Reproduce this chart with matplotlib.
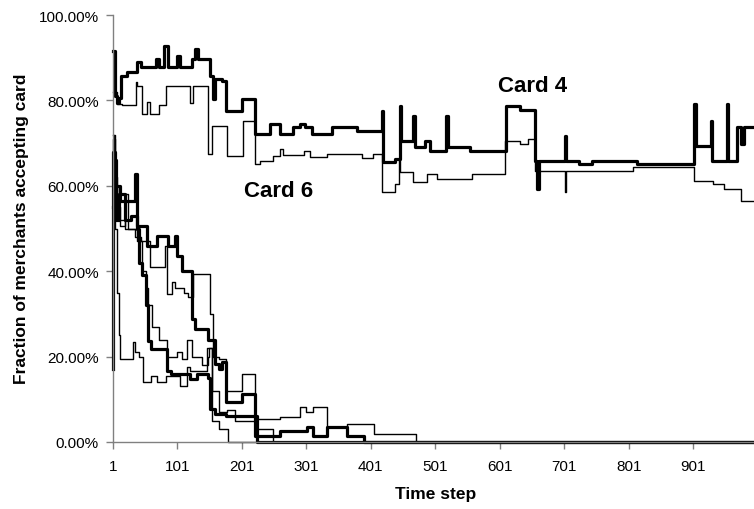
import matplotlib
matplotlib.use("Agg")
import matplotlib.pyplot as plt
from matplotlib.ticker import FuncFormatter

plt.rcParams['font.family'] = ['Liberation Sans', 'DejaVu Sans']

# ---- data: (time step, % of merchants accepting) step breakpoints ----
card4 = [(1, 91.5), (4, 81), (7, 79.5), (11, 80.5), (14, 85.7), (23, 86.7), (38, 89), (45, 87.8),
         (68, 89.7), (73, 87.8), (80, 92.7), (86, 87.8), (101, 90.4), (106, 87.8), (124, 89.7),
         (129, 92), (133, 89.7), (152, 85.7), (156, 80.3), (160, 85), (170, 84.5), (177, 77.5),
         (201, 80.3), (221, 72.1), (245, 74.5), (260, 72.1), (281, 73.8), (291, 74.5), (299, 73.8),
         (310, 72.1), (341, 73.8), (379, 72.8), (418, 77.5), (420, 65.6), (439, 66.2), (446, 78.7),
         (448, 70.5), (467, 76.3), (469, 69.1), (485, 70.5), (493, 68.1), (518, 76.3), (520, 69.1),
         (555, 68.1), (610, 78.7), (633, 77.8), (656, 65.8), (659, 59.3), (661, 65.8), (702, 71.7),
         (704, 65.8), (724, 65.1), (744, 65.8), (814, 65.1), (902, 79.2), (905, 69.3), (928, 75.2),
         (930, 65.8), (953, 79.2), (955, 65.8), (969, 73.8), (975, 69.8), (980, 73.8), (1000, 73.8)]

card6 = [(1, 82), (7, 79.2), (15, 79), (37, 84.3), (39, 83.4), (46, 76.8), (54, 79.6), (59, 76.8),
         (72, 78.9), (84, 83.4), (121, 79.5), (126, 83.4), (149, 67.4), (155, 74), (178, 67),
         (203, 75.2), (222, 65.1), (229, 65.8), (250, 67), (260, 68.6), (265, 67.1), (297, 68.2),
         (307, 66.7), (333, 67.4), (387, 66.5), (405, 67.4), (418, 58.5), (439, 60.4), (444, 66),
         (447, 63.2), (467, 60.9), (488, 62.8), (503, 61.6), (558, 62.8), (609, 70.5), (633, 69.8),
         (645, 71), (656, 63.5), (702, 58.5), (704, 63.5), (808, 64.4), (902, 61.1), (931, 60.4),
         (948, 59.3), (975, 56.5), (1000, 56.5)]

card_a = [(1, 17), (2, 68), (5, 60), (12, 56.4), (36, 62.8), (38, 50.7), (54, 45.9), (69, 48.3),
          (87, 46), (98, 48.3), (100, 43.6), (108, 40.1), (124, 28.8), (129, 26.5), (149, 24),
          (160, 18.3), (165, 17.1), (170, 18.7), (177, 9.4), (201, 11.2), (222, 1.5), (260, 2.6),
          (302, 3.5), (312, 1.5), (333, 3.5), (364, 1.5), (390, 0), (1000, 0)]

card_c = [(1, 55), (3, 66), (6, 52), (10, 58), (20, 52), (30, 53), (38, 50), (41, 42), (46, 39),
          (52, 32), (56, 23.7), (60, 21.8), (85, 16.7), (92, 15.9), (121, 14.7), (131, 15.9),
          (149, 15), (152, 7.7), (159, 6.5), (177, 6.2), (224, 0), (1000, 0)]

card_b = [(1, 72), (3, 60), (8, 52), (20, 50), (35, 48), (45, 47), (59, 41), (82, 46), (85, 34.7),
          (93, 37.5), (98, 36), (111, 35), (118, 34), (126, 39.3), (152, 30), (157, 20), (165, 19.4),
          (177, 12), (201, 15.9), (222, 5.5), (260, 5.8), (291, 8.2), (300, 7), (312, 8.2),
          (333, 3.5), (364, 4.2), (406, 1.9), (471, 0), (1000, 0)]

card_d = [(1, 45), (2, 71), (4, 62), (8, 55), (12, 50.5), (20, 58), (25, 50), (38, 47), (46, 40),
          (52, 36), (56, 32), (62, 27), (72, 24), (85, 20), (100, 21), (108, 19.5), (116, 24),
          (124, 20), (140, 18), (148, 20), (151, 22), (155, 12), (165, 7), (178, 7.5), (190, 5),
          (222, 3), (250, 0), (1000, 0)]

card_e = [(1, 65), (3, 72), (5, 50), (8, 35), (10, 25), (12, 19.4), (33, 23.4), (36, 21), (42, 20),
          (48, 14), (56, 14), (60, 15.5), (70, 14), (84, 15.5), (105, 13.2), (116, 17.5),
          (121, 16.7), (147, 22), (155, 5), (165, 3), (180, 0), (1000, 0)]

xticks = [1, 101, 201, 301, 401, 501, 601, 701, 801, 901]
yticks = [0, 20, 40, 60, 80, 100]

thin_series = [card6, card_b, card_d, card_e]
thick_series = [card4, card_a, card_c]

fig = plt.figure(figsize=(7.54, 5.10), dpi=100)
ax = fig.add_axes([0.1495, 0.1314, 0.8505, 0.8372])

for s in thin_series:
    t, v = zip(*s)
    ax.step(t, v, where='post', color='black', lw=1.0, clip_on=False)
for s in thick_series:
    t, v = zip(*s)
    ax.step(t, v, where='post', color='black', lw=2.3, clip_on=False)

ax.set_xlim(1, 995)
ax.set_ylim(0, 100)
ax.set_xticks(xticks)
ax.set_yticks(yticks)
ax.yaxis.set_major_formatter(FuncFormatter(lambda v, p: f"{v:.2f}%"))
for sp in ['top', 'right']:
    ax.spines[sp].set_visible(False)
for sp in ['left', 'bottom']:
    ax.spines[sp].set_color('#808080')
    ax.spines[sp].set_linewidth(1.0)
ax.tick_params(axis='both', direction='out', length=5, width=1.0, color='#808080',
               labelsize=11, labelcolor='black')
ax.tick_params(axis='x', pad=7)
ax.tick_params(axis='y', pad=5)

ax.text(651, 83.4, "Card 4", fontsize=16, fontweight='bold', ha='center', va='center')
ax.text(258, 58.8, "Card 6", fontsize=16, fontweight='bold', ha='center', va='center')

fig.text(436 / 754, 1 - 495 / 510, "Time step", fontsize=12.5, fontweight='bold',
         ha='center', va='center')
fig.text(22 / 754, 1 - 229 / 510, "Fraction of merchants accepting card", fontsize=12.5,
         fontweight='bold', ha='center', va='center', rotation=90)

fig.savefig("out.png", dpi=100)
